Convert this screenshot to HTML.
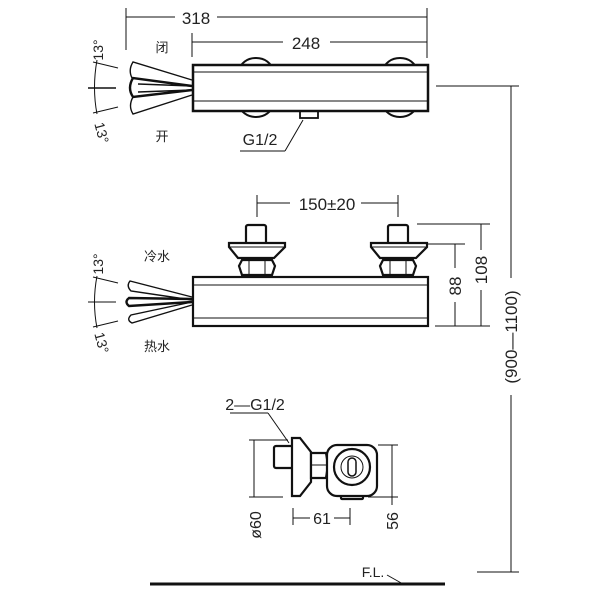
<!DOCTYPE html>
<html><head><meta charset="utf-8"><style>body{margin:0;background:#fff}svg{display:block}text{font-family:"Liberation Sans","Noto Sans CJK SC",sans-serif;fill:#222}</style></head>
<body>
<svg width="600" height="600" viewBox="0 0 600 600" xmlns="http://www.w3.org/2000/svg" stroke="#111" fill="none">
<!-- TOP VIEW -->
<g stroke-width="1">
<line x1="126" y1="17" x2="175" y2="17"/><line x1="217" y1="17" x2="427" y2="17"/>
<line x1="126" y1="8" x2="126" y2="50"/><line x1="427" y1="8" x2="427" y2="58"/>
<line x1="192" y1="42" x2="283" y2="42"/><line x1="330" y1="42" x2="427" y2="42"/>
<line x1="192" y1="33" x2="192" y2="57"/>
</g>
<text x="196" y="24" font-size="17" stroke="none" text-anchor="middle">318</text>
<text x="306" y="49" font-size="17" stroke="none" text-anchor="middle">248</text>
<text x="162" y="52" font-size="13" stroke="none" text-anchor="middle">闭</text>
<text x="162" y="141" font-size="13" stroke="none" text-anchor="middle">开</text>
<path d="M240 70 A16 12 0 0 1 272 70 M240 105 A16 12 0 0 0 272 105 M384 70 A16 12 0 0 1 416 70 M384 105 A16 12 0 0 0 416 105" stroke-width="2"/>
<rect x="193" y="65" width="235" height="46" stroke-width="2.5" fill="#fff"/>
<line x1="193" y1="72" x2="428" y2="72"/><line x1="193" y1="101" x2="428" y2="101"/>
<rect x="300" y="111" width="18" height="7" stroke-width="1.8"/>
<line x1="303" y1="120" x2="285" y2="151"/><line x1="240" y1="151" x2="285" y2="151"/>
<text x="260" y="145" font-size="16" stroke="none" text-anchor="middle">G1/2</text>
<!-- handle top -->
<g stroke-width="1.4">
<path d="M192 80 L133 62 Q128 70 132 78 L192 86"/>
<path d="M192 86 L133 78 Q127 88 133 97 L192 90" stroke-width="2.4"/>
<path d="M192 90 L133 97 Q128 106 133 114 L192 95"/>
<line x1="192" y1="86" x2="138" y2="84"/><line x1="192" y1="90" x2="138" y2="92"/>
<line x1="88" y1="88" x2="116" y2="88"/>
<path d="M97 60 Q92 88 97 114" stroke-width="1"/>
<line x1="93" y1="62" x2="118" y2="68" stroke-width="1"/><line x1="93" y1="113" x2="118" y2="107" stroke-width="1"/>
</g>
<text transform="translate(103,50) rotate(-90)" font-size="14" stroke="none" text-anchor="middle">13°</text>
<text transform="translate(97,134) rotate(75)" font-size="14" stroke="none" text-anchor="middle">13°</text>

<!-- MIDDLE VIEW -->
<g stroke-width="1">
<line x1="257" y1="203" x2="290" y2="203"/><line x1="361" y1="203" x2="398" y2="203"/>
<line x1="257" y1="195" x2="257" y2="217"/><line x1="398" y1="195" x2="398" y2="217"/>
<line x1="417" y1="224" x2="490" y2="224"/><line x1="420" y1="244" x2="465" y2="244"/><line x1="435" y1="326" x2="490" y2="326"/>
<line x1="455" y1="244" x2="455" y2="268"/><line x1="455" y1="302" x2="455" y2="326"/>
<line x1="481" y1="224" x2="481" y2="250"/><line x1="481" y1="290" x2="481" y2="326"/>
</g>
<text x="327" y="210" font-size="17" stroke="none" text-anchor="middle">150±20</text>
<text transform="translate(461,286) rotate(-90)" font-size="17" stroke="none" text-anchor="middle">88</text>
<text transform="translate(487,270) rotate(-90)" font-size="17" stroke="none" text-anchor="middle">108</text>
<g stroke-width="2.2" fill="#fff">
<rect x="246" y="225" width="20" height="19" rx="2"/><path d="M229 243 L285 243 L285 247 L274 258 L238 258 L229 247 Z"/>
<path d="M242 260 L272 260 L275 266 L272 275 L242 275 L239 266 Z"/>
<rect x="388" y="225" width="20" height="19" rx="2"/><path d="M371 243 L427 243 L427 247 L416 258 L380 258 L371 247 Z"/>
<path d="M383 260 L413 260 L416 266 L413 275 L383 275 L380 266 Z"/>
<rect x="193" y="277" width="235" height="49"/>
</g>
<line x1="193" y1="285" x2="428" y2="285"/><line x1="193" y1="318" x2="428" y2="318"/>
<line x1="249" y1="260" x2="249" y2="275"/><line x1="265" y1="260" x2="265" y2="275"/>
<line x1="390" y1="260" x2="390" y2="275"/><line x1="406" y1="260" x2="406" y2="275"/>
<line x1="229" y1="247" x2="285" y2="247"/><line x1="371" y1="247" x2="427" y2="247"/>
<text x="157" y="261" font-size="13" stroke="none" text-anchor="middle">冷水</text>
<text x="157" y="351" font-size="13" stroke="none" text-anchor="middle">热水</text>
<g stroke-width="1.4">
<path d="M192 297 L130 281 Q126 286 131 291 L192 300"/>
<path d="M192 299 L129 298 Q124 302 129 306 L192 302" stroke-width="2.4"/>
<path d="M192 302 L131 315 Q126 320 132 323 L192 305"/>
<line x1="88" y1="302" x2="116" y2="302" stroke-width="1"/>
<path d="M97 276 Q92 302 97 328" stroke-width="1"/>
<line x1="93" y1="277" x2="118" y2="283" stroke-width="1"/><line x1="93" y1="327" x2="118" y2="321" stroke-width="1"/>
</g>
<text transform="translate(103,264) rotate(-90)" font-size="14" stroke="none" text-anchor="middle">13°</text>
<text transform="translate(97,344) rotate(75)" font-size="14" stroke="none" text-anchor="middle">13°</text>

<!-- BIG VERTICAL -->
<g stroke-width="1">
<line x1="436" y1="86" x2="519" y2="86"/><line x1="477" y1="572" x2="519" y2="572"/>
<line x1="511" y1="86" x2="511" y2="278"/><line x1="511" y1="395" x2="511" y2="572"/>
<line x1="387" y1="575" x2="403" y2="584"/>
</g>
<text transform="translate(517,337) rotate(-90)" font-size="17" stroke="none" text-anchor="middle">(900—1100)</text>
<text x="373" y="577" font-size="14" stroke="none" text-anchor="middle">F.L.</text>
<line x1="150" y1="584" x2="445" y2="584" stroke-width="3"/>

<!-- BOTTOM VIEW -->
<text x="255" y="410" font-size="16" stroke="none" text-anchor="middle">2—G1/2</text>
<g stroke-width="1">
<line x1="230" y1="413" x2="268" y2="413"/><line x1="268" y1="413" x2="289" y2="443"/>
<line x1="249" y1="440" x2="288" y2="440"/><line x1="249" y1="497" x2="283" y2="497"/>
<line x1="254" y1="440" x2="254" y2="497"/>
<line x1="293" y1="508" x2="293" y2="525"/><line x1="350" y1="508" x2="350" y2="525"/>
<line x1="293" y1="518" x2="310" y2="518"/><line x1="334" y1="518" x2="350" y2="518"/>
<line x1="378" y1="445" x2="398" y2="445"/><line x1="368" y1="497" x2="398" y2="497"/>
<line x1="392" y1="445" x2="392" y2="505"/>
</g>
<text x="322" y="524" font-size="16" stroke="none" text-anchor="middle">61</text>
<text transform="translate(261,525) rotate(-90)" font-size="16" stroke="none" text-anchor="middle">ø60</text>
<text transform="translate(398,521) rotate(-90)" font-size="16" stroke="none" text-anchor="middle">56</text>
<g stroke-width="2.2" fill="#fff">
<rect x="274" y="446" width="19" height="22" rx="2"/>
<path d="M292 438 L300 438 L311 452 L311 482 L300 496 L292 496 Z"/>
<path d="M311 453 L326 453 L328 465 L326 478 L311 478 Z"/>
<rect x="341" y="490" width="22" height="9" rx="1"/>
<rect x="327" y="445" width="50" height="51" rx="10"/>
<circle cx="352" cy="467" r="18"/>
</g>
<line x1="311" y1="465" x2="328" y2="465"/>
<circle cx="352" cy="467" r="11" stroke-width="1"/>
<rect x="348" y="458" width="8" height="18" rx="4" stroke-width="1.5"/>
</svg>
</body></html>
